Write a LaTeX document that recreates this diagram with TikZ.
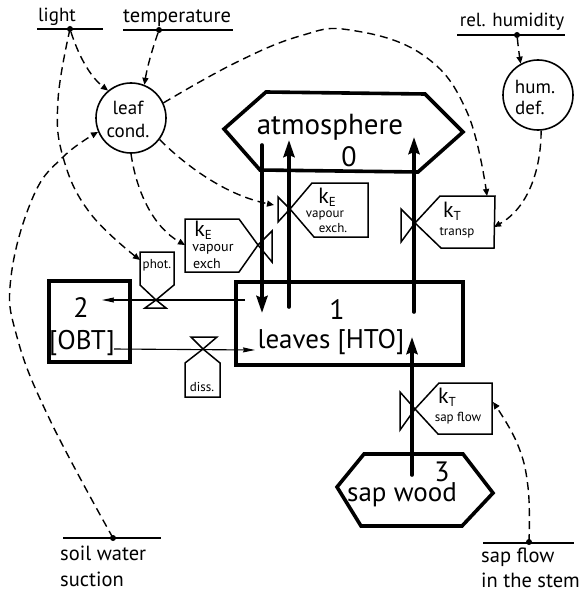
\documentclass[tikz,border=0pt]{standalone}
\usepackage{fontspec}
\setmainfont{PT Sans}
\usetikzlibrary{arrows.meta}
\tikzset{
  box/.style={line width=3.6pt,line join=miter},
  flow/.style={line width=3.6pt,line cap=round,-{Stealth[length=17pt,width=11pt,inset=2pt]}},
  thinflow/.style={line width=1.1pt,-{Stealth[length=12pt,width=5pt,inset=1pt]}},
  ctl/.style={line width=1.4pt,dash pattern=on 8pt off 5pt,-{Stealth[length=7pt,width=6pt,inset=0pt]}},
  src/.style={line width=1.4pt},
  aux/.style={circle,draw,line width=1.6pt,minimum size=70pt,inner sep=0pt},
  valve/.style={line width=1.5pt,fill=white,line join=miter},
  big/.style={inner sep=0pt,font=\fontsize{29}{29}\selectfont},
  hto/.style={inner sep=0pt,font=\fontsize{27}{27}\selectfont},
  num/.style={inner sep=0pt,font=\fontsize{28}{28}\selectfont},
  mid/.style={inner sep=0pt,font=\fontsize{22}{22}\selectfont},
  sml/.style={inner sep=0pt,font=\fontsize{19}{19}\selectfont},
  lab/.style={inner sep=0pt,font=\fontsize{20.5}{20.5}\selectfont},
  tiny/.style={inner sep=0pt,font=\fontsize{14}{14}\selectfont},
  tin/.style={inner sep=0pt,font=\fontsize{13}{13}\selectfont},
  dot/.style={circle,fill=black,inner sep=0pt,minimum size=6pt},
}
\begin{document}
\begin{tikzpicture}[x=1pt,y=-1pt]
\useasboundingbox (0,0) rectangle (586,591);
% sources
\draw[src] (37,29) -- (103,29);
\draw[src] (123,30) -- (233,30);
\draw[src] (457,35) -- (565,35);
\draw[src] (63,538) -- (161,538);
\draw[src] (483,543) -- (574,543);
\node[dot] (lightdot) at (70,29) {};
\node[dot] (tempdot) at (159,30) {};
\node[dot] (humdot) at (517,35) {};
\node[dot] (soildot) at (113,538) {};
\node[dot] (sapdot) at (529,542) {};
\node[sml] (lightlab) at (57,17) {light};
\node[lab] (templab) at (177,18) {temperature};
\node[sml] (humlab) at (512,22) {rel. humidity};
\node[lab,anchor=west] (soillab) at (60,553) {soil water};
\node[lab,anchor=west] (suctlab) at (60,579) {suction};
\node[lab,anchor=west] (saplab) at (481,557) {sap flow};
\node[lab,anchor=west] (stemlab) at (481,580) {in the stem};
% circles
\node[aux] (leaf) at (131,118) {};
\node[aux] (hum) at (538,95) {};
\node[sml] (leaft) at (128,108) {leaf};
\node[sml] (condt) at (128,131) {cond.};
\node[sml] (humt) at (535,87) {hum.};
\node[sml] (deft) at (530,108) {def.};
% compartments
\draw[box] (260,170) -- (224,129) -- (266,92) -- (425,94) -- (463,132) -- (418,172) -- cycle;
\draw[box] (236,282) rectangle (463,365);
\draw[box] (49,281) rectangle (130,362);
\draw[box] (337,487) -- (364,454) -- (463,454) -- (493,493) -- (462,526) -- (361,526) -- cycle;
\node[big] (atm) at (330,127) {atmosphere};
\node[num] (zero) at (349,157) {0};
\node[num] (one) at (337,310) {1};
\node[hto] (leaves) at (331,342) {leaves [HTO]};
\node[num] (two) at (81,308) {2};
\node[hto] (obt) at (82,343) {[OBT]};
\node[num] (three) at (442,472) {3};
\node[hto] (sapw) at (402,495) {sap wood};
% valve centres
\coordinate (v1) at (258,245);
\coordinate (v2) at (290,209);
\coordinate (v3) at (415,223);
\coordinate (v4) at (415,409);
\coordinate (vp) at (156,300);
\coordinate (vd) at (203,349);
% valves
\draw[valve] (v1) -- (272,231) -- (272,262) -- cycle;
\draw[valve] (v1) -- (239,219) -- (185,219) -- (185,272) -- (239,272) -- cycle;
\draw[valve] (v2) -- (278,197) -- (278,222) -- cycle;
\draw[valve] (v2) -- (312,183) -- (368,183) -- (368,237) -- (314,237) -- cycle;
\draw[valve] (v3) -- (401,209) -- (401,242) -- cycle;
\draw[valve] (v3) -- (440,196) -- (495,196) -- (494,248) -- (441,248) -- cycle;
\draw[valve] (v4) -- (400,392) -- (400,430) -- cycle;
\draw[valve] (v4) -- (439,383) -- (492,383) -- (492,434) -- (438,434) -- cycle;
\draw[valve] (vp) -- (145,308) -- (166,308) -- cycle;
\draw[valve] (vp) -- (140,285) -- (140,252) -- (174,252) -- (174,285) -- cycle;
\draw[valve] (vd) -- (191,337) -- (217,337) -- cycle;
\draw[valve] (vd) -- (185,363) -- (185,397) -- (220,397) -- (220,363) -- cycle;
% flows
\coordinate (a1) at (262,145); \coordinate (a2) at (262,313);
\coordinate (b1) at (289,307); \coordinate (b2) at (289,140);
\coordinate (c1) at (414,312); \coordinate (c2) at (414,137);
\coordinate (d1) at (412,475); \coordinate (d2) at (412,337);
\draw[flow] (a1) -- (a2);
\draw[flow] (b1) -- (b2);
\draw[flow] (c1) -- (c2);
\draw[flow] (d1) -- (d2);
\coordinate (e1) at (245,300); \coordinate (e2) at (102,300);
\coordinate (f1) at (114,349); \coordinate (f2) at (255,350);
\draw[thinflow] (e1) -- (e2);
\draw[thinflow] (f1) -- (f2);
% valve labels
\node[mid] (ke1) at (203,230) {k\raisebox{-3pt}{\fontsize{13}{13}\selectfont E}};
\node[tiny] (vap1) at (213,249) {vapour};
\node[tiny] (exc1) at (207,264) {exch};
\node[mid] (ke2) at (327,197) {k\raisebox{-3pt}{\fontsize{13}{13}\selectfont E}};
\node[tin] (vap2) at (325,215) {vapour};
\node[tin] (exc2) at (333,228) {exch.};
\node[mid] (kt1) at (452,211) {k\raisebox{-3pt}{\fontsize{13}{13}\selectfont T}};
\node[tin] (trn) at (457,233) {transp};
\node[mid] (kt2) at (447,397) {k\raisebox{-3pt}{\fontsize{13}{13}\selectfont T}};
\node[tin] (spf) at (458,418) {sap flow};
\node[tin] (pht) at (157,265) {phot.};
\node[tin] (dss) at (202,387) {diss.};
% control ends
\coordinate (kttop) at (487,196);
\coordinate (ktside) at (494,227);
\coordinate (v2in) at (274,205);
\coordinate (k1in) at (185,245);
\coordinate (phin) at (140,260);
\coordinate (spin) at (493,402);
% controls
\draw[ctl] (lightdot) .. controls (80,60) and (92,78) .. (leaf.130);
\draw[ctl] (tempdot) .. controls (152,50) and (147,68) .. (leaf.68);
\draw[ctl] (humdot) .. controls (518,45) and (519,53) .. (hum.119);
\draw[ctl] plot[smooth,tension=.7] coordinates {(leaf.25) (235,63) (300,36) (350,30) (423,55) (467,112) (kttop)};
\draw[ctl] (leaf.-37) .. controls (185,165) and (225,195) .. (v2in);
\draw[ctl] (leaf.-90) .. controls (137,195) and (155,228) .. (k1in);
\draw[ctl] plot[smooth,tension=.7] coordinates {(lightdot) (58,100) (63,157) (90,213) (phin)};
\draw[ctl] plot[smooth,tension=.7] coordinates {(soildot) (50,420) (17,337) (11,277) (33,197) (63,157) (leaf.203)};
\draw[ctl] (hum.-85) .. controls (541,170) and (528,208) .. (ktside);
\draw[ctl] plot[smooth,tension=.7] coordinates {(sapdot) (528,487) (517,443) (spin)};
\end{tikzpicture}
\end{document}
